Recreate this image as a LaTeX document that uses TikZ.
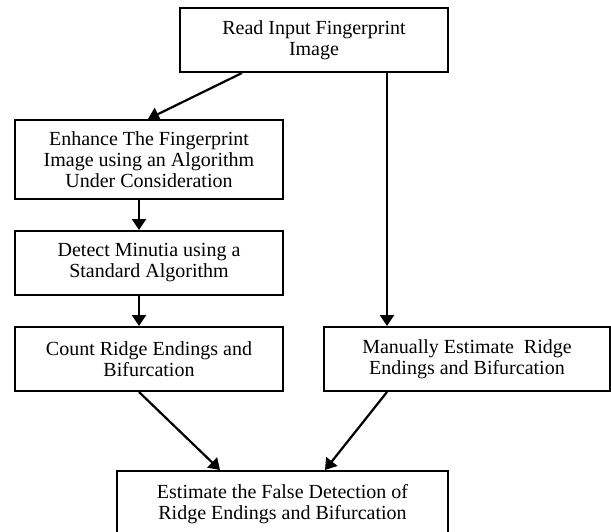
\documentclass[tikz,border=0pt]{standalone}
\usepackage{fontspec}
\setmainfont{Liberation Serif}
\usetikzlibrary{arrows.meta}
\tikzset{
	stepbox/.style={draw, line width=2pt, align=center, inner sep=0pt, font=\fontsize{20}{21}\selectfont},
	flow/.style={line width=2.2pt, -{Triangle[length=11pt,width=14pt]}}
}
\begin{document}
\begin{tikzpicture}[x=1pt, y=-1pt]
			\useasboundingbox (0,0) rectangle (611,531);
			\node[stepbox, minimum width=268pt, minimum height=64pt] (read) at (314,40) {Read Input Fingerprint\\Image};
			\node[stepbox, minimum width=268pt, minimum height=79pt] (enh) at (149,159.5) {Enhance The Fingerprint\\Image using an Algorithm\\Under Consideration};
			\node[stepbox, minimum width=268pt, minimum height=64pt] (det) at (149,263) {Detect Minutia using a\\Standard Algorithm};
			\node[stepbox, minimum width=268pt, minimum height=64pt] (cnt) at (149,359) {Count Ridge Endings and\\Bifurcation};
			\node[stepbox, minimum width=286pt, minimum height=64pt] (man) at (467,359) {Manually Estimate~ Ridge\\Endings and Bifurcation};
			\node[stepbox, minimum width=331pt, minimum height=66pt] (est) at (282.5,504) {Estimate the False Detection of\\Ridge Endings and Bifurcation};
			\draw[flow] ([xshift=-72pt]read.south) -- ([xshift=-1pt]enh.north);
			\draw[flow] ([xshift=73pt]read.south) -- ([xshift=73pt]read.south |- man.north);
			\draw[flow] ([xshift=-10pt]enh.south) -- ([xshift=-10pt]det.north);
			\draw[flow] ([xshift=-10pt]det.south) -- ([xshift=-10pt]cnt.north);
			\draw[flow] ([xshift=-10pt]cnt.south) -- ([xshift=-62.5pt]est.north);
			\draw[flow] ([xshift=-80pt]man.south) -- ([xshift=42.5pt]est.north);
		\end{tikzpicture}
\end{document}
